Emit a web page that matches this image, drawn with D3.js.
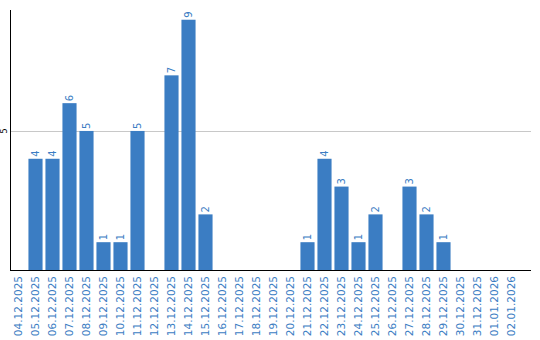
<!DOCTYPE html>
<html>
<head>
<meta charset="utf-8">
<script src="https://d3js.org/d3.v7.min.js"></script>
<style>
  body { margin: 0; background: #fff; }
  svg { display: block; }
  text { font-family: "DejaVu Sans", Verdana, sans-serif; }
</style>
</head>
<body>
<div id="chart"></div>
<script>
var dates = ['04.12.2025', '05.12.2025', '06.12.2025', '07.12.2025', '08.12.2025',
    '09.12.2025', '10.12.2025', '11.12.2025', '12.12.2025', '13.12.2025',
    '14.12.2025', '15.12.2025', '16.12.2025', '17.12.2025', '18.12.2025',
    '19.12.2025', '20.12.2025', '21.12.2025', '22.12.2025', '23.12.2025',
    '24.12.2025', '25.12.2025', '26.12.2025', '27.12.2025', '28.12.2025',
    '29.12.2025', '30.12.2025', '31.12.2025', '01.01.2026', '02.01.2026'];
var counts = [0, 4, 4, 6, 5, 1, 1, 5, 0, 7,
    9, 2, 0, 0, 0, 0, 0, 1, 4, 3,
    1, 2, 0, 3, 2, 1, 0, 0, 0, 0];
var yTicks = [5];

var blue = "#3b7dc3";
var plotLeft = 10, plotTop = 10, plotBottom = 270, plotRight = 531;

var svg = d3.select('#chart').append("svg")
    .attr("width", 540)
    .attr("height", 340);

var xScale = d3.scaleBand()
    .domain(dates)
    .range([plotLeft, plotLeft + 17 * dates.length])
    .paddingInner(0.17)
    .paddingOuter(0.085);

var yScale = d3.scaleLinear()
    .domain([0, 9.35])
    .range([plotBottom, plotTop]);

// gridline
svg.selectAll(".grid")
    .data(yTicks)
    .enter().append("line")
    .attr("class", "grid")
    .attr("x1", plotLeft)
    .attr("x2", plotRight)
    .attr("y1", function(d) { return Math.round(yScale(d)) + 0.5; })
    .attr("y2", function(d) { return Math.round(yScale(d)) + 0.5; })
    .attr("stroke", "#c8c8c8")
    .attr("stroke-width", 1);

// y tick labels
svg.selectAll(".ytick")
    .data(yTicks)
    .enter().append("text")
    .attr("class", "ytick")
    .attr("transform", function(d) { return "translate(7," + yScale(d) + ") rotate(-90)"; })
    .attr("text-anchor", "middle")
    .style("font-size", "8px")
    .attr("fill", "#000")
    .text(function(d) { return d; });

// bars
var data = dates.map(function(d, i) { return {date: d, value: counts[i]}; });

svg.selectAll(".bar")
    .data(data.filter(function(d) { return d.value > 0; }))
    .enter().append("rect")
    .attr("class", "bar")
    .attr("x", function(d) { return xScale(d.date); })
    .attr("width", xScale.bandwidth())
    .attr("y", function(d) { return yScale(d.value); })
    .attr("height", function(d) { return plotBottom - yScale(d.value); })
    .attr("fill", blue);

// bar value labels
svg.selectAll(".val")
    .data(data.filter(function(d) { return d.value > 0; }))
    .enter().append("text")
    .attr("class", "val")
    .attr("transform", function(d) {
        return "translate(" + (xScale(d.date) + xScale.bandwidth() / 2) + "," + (yScale(d.value) - 2) + ") rotate(-90)";
    })
    .attr("dy", "0.35em")
    .attr("text-anchor", "start")
    .style("font-size", "10px")
    .attr("fill", blue)
    .text(function(d) { return d.value; });

// axes lines
svg.append("line")
    .attr("x1", plotLeft + 0.5).attr("x2", plotLeft + 0.5)
    .attr("y1", plotTop).attr("y2", plotBottom)
    .attr("stroke", "#000");

svg.append("line")
    .attr("x1", plotLeft).attr("x2", plotRight)
    .attr("y1", plotBottom + 0.5).attr("y2", plotBottom + 0.5)
    .attr("stroke", "#000");

// x labels
svg.selectAll(".xlab")
    .data(dates)
    .enter().append("text")
    .attr("class", "xlab")
    .attr("transform", function(d) {
        return "translate(" + (xScale(d) + xScale.bandwidth() / 2) + "," + (plotBottom + 6) + ") rotate(-90)";
    })
    .attr("dy", "0.35em")
    .attr("text-anchor", "end")
    .style("font-size", "10.5px")
    .attr("fill", blue)
    .text(function(d) { return d; });
</script>
</body>
</html>
